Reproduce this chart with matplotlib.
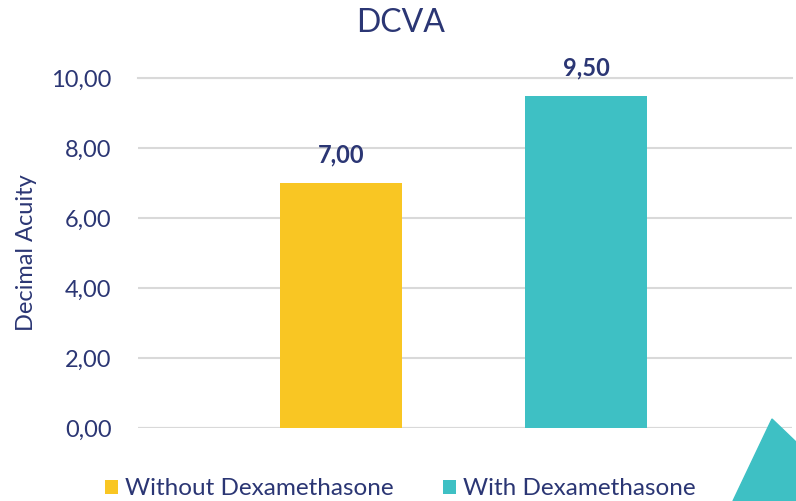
import matplotlib.pyplot as plt
from matplotlib.patches import Polygon

# data
groups = ['Without Dexamethasone', 'With Dexamethasone']
values = [7.00, 9.50]
colors = ['#F9C623', '#3EC0C4']
yticks = [0, 2, 4, 6, 8, 10]

navy = '#2B3674'
grid = '#D9D9D9'

plt.rcParams['font.family'] = ['Lato', 'DejaVu Sans']

fig = plt.figure(figsize=(7.96, 5.01), dpi=100)
ax = fig.add_axes([0.1734, 0.1457, 0.8216, 0.6986])

pos = list(range(len(groups)))
bars = ax.bar(pos, values, width=0.5, color=colors, label=groups, zorder=3)

for x, v in zip(pos, values):
    ax.text(x, v + 0.47, f'{v:.2f}'.replace('.', ','), ha='center', va='bottom',
            fontsize=17, fontweight='bold', color=navy)

ax.set_xlim(-0.829, 1.841)
ax.set_ylim(0, 10)
ax.set_yticks(yticks)
ax.set_yticklabels([f'{t:.2f}'.replace('.', ',') for t in yticks])
ax.set_xticks([])
ax.tick_params(axis='y', length=0, labelsize=17, labelcolor=navy, pad=19)
ax.yaxis.grid(True, color=grid, linewidth=1.5, zorder=0)
ax.set_axisbelow(True)
for s in ax.spines.values():
    s.set_visible(False)
ax.axhline(0, color=grid, linewidth=1.5, zorder=1)
ax.axhline(10, color=grid, linewidth=1.5, zorder=1, clip_on=False)

ax.set_ylabel('Decimal Acuity', fontsize=17, color=navy, labelpad=10)
fig.text(0.503, 0.954, 'DCVA', ha='center', va='center', fontsize=23, color=navy)

leg = fig.legend(handles=bars, labels=groups, loc='center', bbox_to_anchor=(0.503, 0.024),
                 ncol=2, frameon=False, fontsize=17.5, handlelength=0.55, handleheight=0.55,
                 handletextpad=0.3, columnspacing=2.0, borderpad=0)
for t in leg.get_texts():
    t.set_color(navy)

# decorative triangle in the corner
tri = Polygon([(733 / 796, 0), (772 / 796, 82 / 501), (1, 59 / 501), (1, 0)],
              closed=True, transform=fig.transFigure, color='#3EC0C4', zorder=5)
fig.patches.append(tri)

fig.savefig('out.png', dpi=100)
